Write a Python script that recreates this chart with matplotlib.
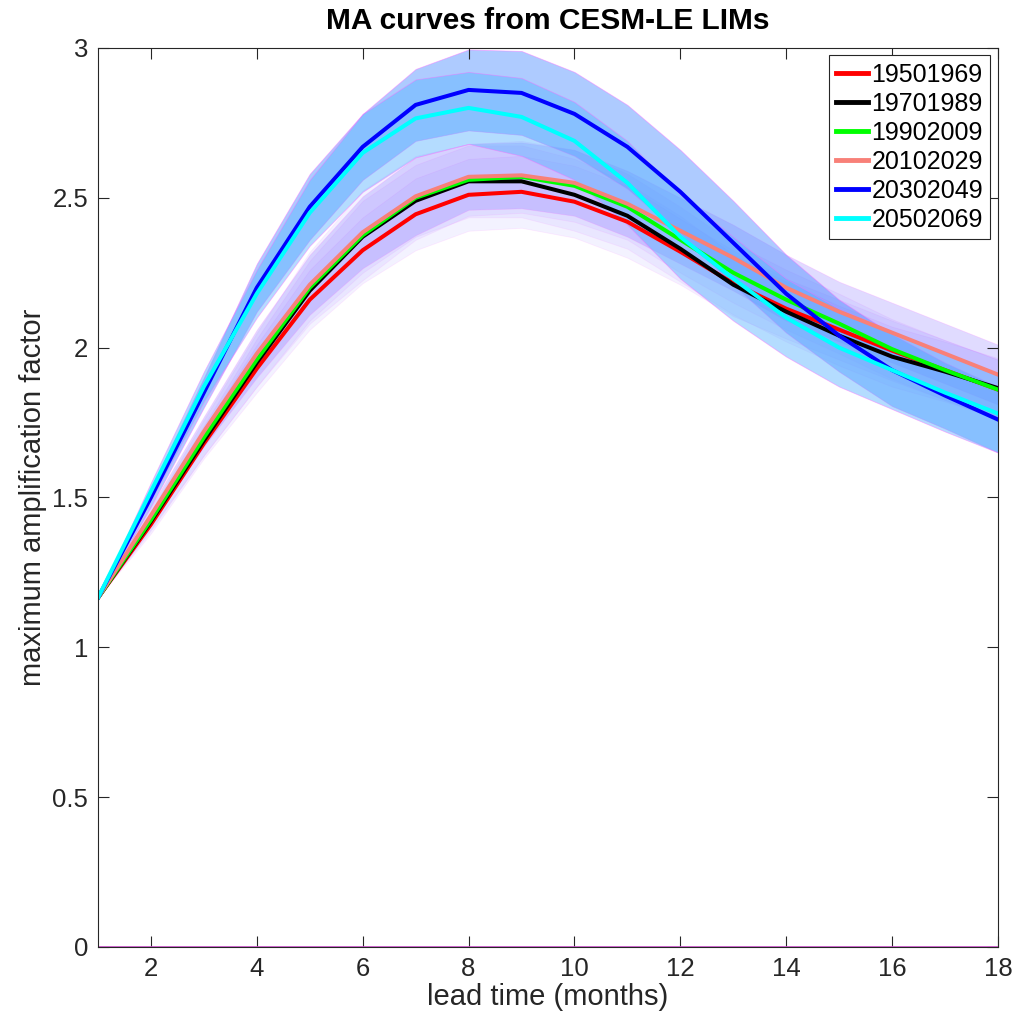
import numpy as np
import matplotlib.pyplot as plt

plt.rcParams['font.family'] = ['Liberation Sans', 'DejaVu Sans']

lead = np.arange(1, 19)

periods = ['19501969', '19701989', '19902009', '20102029', '20302049', '20502069']

# ensemble mean MA curves
ma_1950 = [1.165, 1.41, 1.68, 1.93, 2.16, 2.325, 2.445, 2.51, 2.52, 2.487, 2.42, 2.32, 2.215, 2.13, 2.06, 1.99, 1.925, 1.86]
ma_1970 = [1.165, 1.42, 1.69, 1.95, 2.19, 2.37, 2.49, 2.555, 2.555, 2.51, 2.44, 2.33, 2.21, 2.12, 2.04, 1.97, 1.92, 1.865]
ma_1990 = [1.165, 1.425, 1.70, 1.96, 2.20, 2.375, 2.50, 2.56, 2.57, 2.54, 2.47, 2.36, 2.25, 2.16, 2.08, 1.995, 1.925, 1.86]
ma_2010 = [1.165, 1.44, 1.72, 1.98, 2.21, 2.385, 2.505, 2.57, 2.575, 2.55, 2.48, 2.39, 2.30, 2.20, 2.12, 2.05, 1.98, 1.91]
ma_2030 = [1.165, 1.50, 1.85, 2.20, 2.47, 2.67, 2.81, 2.86, 2.85, 2.78, 2.67, 2.52, 2.35, 2.18, 2.04, 1.925, 1.84, 1.76]
ma_2050 = [1.165, 1.52, 1.87, 2.18, 2.45, 2.65, 2.765, 2.80, 2.77, 2.69, 2.55, 2.37, 2.23, 2.10, 2.00, 1.925, 1.85, 1.78]

# spread (half width of shaded band)
sp_1950 = [0.0, 0.03, 0.05, 0.08, 0.10, 0.11, 0.12, 0.12, 0.12, 0.12, 0.12, 0.11, 0.11, 0.10, 0.10, 0.10, 0.10, 0.10]
sp_1970 = [0.0, 0.03, 0.05, 0.08, 0.10, 0.12, 0.12, 0.12, 0.12, 0.12, 0.11, 0.11, 0.10, 0.10, 0.10, 0.10, 0.10, 0.10]
sp_1990 = [0.0, 0.03, 0.06, 0.09, 0.12, 0.15, 0.14, 0.12, 0.12, 0.12, 0.11, 0.11, 0.10, 0.10, 0.10, 0.10, 0.10, 0.10]
sp_2010 = [0.0, 0.03, 0.05, 0.08, 0.10, 0.12, 0.13, 0.11, 0.11, 0.11, 0.11, 0.11, 0.11, 0.11, 0.10, 0.10, 0.10, 0.10]
sp_2030 = [0.0, 0.03, 0.05, 0.08, 0.11, 0.11, 0.12, 0.135, 0.14, 0.14, 0.14, 0.14, 0.14, 0.13, 0.12, 0.12, 0.11, 0.11]
sp_2050 = [0.0, 0.03, 0.05, 0.08, 0.11, 0.13, 0.13, 0.12, 0.13, 0.13, 0.14, 0.14, 0.14, 0.13, 0.13, 0.13, 0.13, 0.13]

line_cols = ['#ff0000', '#000000', '#00ff00', '#f88078', '#0000ff', '#00ffff']
band_cols = [(0.60, 0.55, 1.0), (0.60, 0.55, 1.0), (0.60, 0.55, 1.0),
             (0.40, 0.30, 1.0), (0.30, 0.55, 1.0), (0.35, 0.70, 1.0)]
band_alpha = [0.11, 0.11, 0.11, 0.2, 0.45, 0.45]

curves = [ma_1950, ma_1970, ma_1990, ma_2010, ma_2030, ma_2050]
spreads = [sp_1950, sp_1970, sp_1990, sp_2010, sp_2030, sp_2050]

fig = plt.figure(figsize=(10.28, 10.25), dpi=100)
ax = fig.add_axes([0.0953, 0.0761, 0.8755, 0.8771])

for m, s, bc, a in zip(curves, spreads, band_cols, band_alpha):
    m = np.array(m)
    s = np.array(s)
    ax.fill_between(lead, m - s, m + s, facecolor=bc, alpha=a,
                    edgecolor=(1.0, 0.4, 1.0, 0.6), linewidth=0.6)

for m, c, lab in zip(curves, line_cols, periods):
    ax.plot(lead, m, color=c, lw=2.9, label=lab)

ax.axhline(0, color=(0.8, 0.3, 0.8), lw=1.2)

ax.set_xlim(1, 18)
ax.set_ylim(0, 3)
ax.set_xticks(np.arange(2, 19, 2))
ax.set_yticks([0, 0.5, 1, 1.5, 2, 2.5, 3])
ax.set_yticklabels(['0', '0.5', '1', '1.5', '2', '2.5', '3'])
ax.tick_params(direction='in', top=True, right=True, length=8, width=0.8,
               labelsize=18.5, colors=(0.15, 0.15, 0.15), pad=7)
for sp in ax.spines.values():
    sp.set_color((0.15, 0.15, 0.15))
    sp.set_linewidth(0.8)

ax.set_xlabel('lead time (months)', fontsize=21, color=(0.15, 0.15, 0.15), labelpad=2)
ax.set_ylabel('maximum amplification factor', fontsize=21, color=(0.15, 0.15, 0.15), labelpad=4)
ax.set_title('MA curves from CESM-LE LIMs', fontsize=21.5, fontweight='bold', pad=14)

leg = ax.legend(loc='upper right', fontsize=18, fancybox=False, framealpha=1,
                edgecolor=(0.15, 0.15, 0.15), handlelength=1.25, handletextpad=0.15,
                labelspacing=0.2, borderpad=0.3, borderaxespad=0.3)
leg.get_frame().set_linewidth(0.8)
for ln in leg.get_lines():
    ln.set_linewidth(3.5)

fig.savefig('out.png', dpi=100)
